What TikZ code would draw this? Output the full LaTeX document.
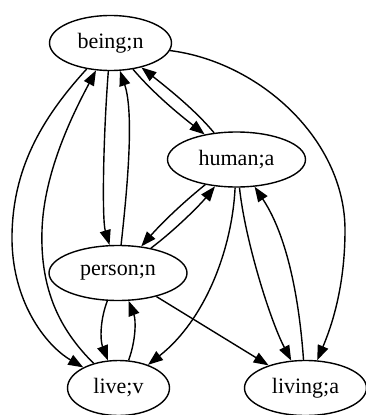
\documentclass[tikz,border=0pt]{standalone}
\usepackage{fontspec}
\setmainfont{Liberation Serif}
\usetikzlibrary{shapes.geometric}
\usetikzlibrary{arrows.meta}
\tikzset{x=1pt, y=-1pt, % pixel-like units, y grows downwards
      every node/.style={font=\fontsize{22}{26}\selectfont},
      word/.style={ % Sets the properties for each word node
      ellipse, draw, line width=1.4pt, inner sep=0pt, minimum height=55pt},
      every path/.style={line width=1.4pt},
      >={Triangle[length=15pt,width=11pt]}} % Filled arrow heads

\begin{document}
\begin{tikzpicture}
      \useasboundingbox (0,0) rectangle (366,415);
      \node[word, minimum width=122pt] (being) at (110.5,43) {being;n};
      \node[word, minimum width=138pt] (human) at (236.5,159.5) {human;a};
      \node[word, minimum width=138pt] (person) at (118,273) {person;n};
      \node[word, minimum width=102pt] (live) at (118.5,388) {live;v};
      \node[word, minimum width=122pt] (living) at (305.5,388) {living;a};
      % edges out of being;n
      \draw[->] (being) .. controls (40,120) and (13,170) .. (12,235) .. controls (11,300) and (45,345) .. (live);
      \draw[->] (being) .. controls (103,140) and (102,220) .. (person);
      \draw[->] (being) .. controls (155,95) and (180,115) .. (human);
      \draw[->] (being) .. controls (260,62) and (345,140) .. (345,230) .. controls (345,290) and (330,330) .. (living);
      % edges out of human;a
      \draw[->] (human) .. controls (195,110) and (170,90) .. (being);
      \draw[->] (human) .. controls (180,205) and (160,225) .. (person);
      \draw[->] (human) .. controls (232,250) and (205,320) .. (live);
      \draw[->] (human) .. controls (245,240) and (270,320) .. (living);
      % edges out of person;n
      \draw[->] (person) .. controls (126,200) and (135,115) .. (being);
      \draw[->] (person) .. controls (175,230) and (200,205) .. (human);
      \draw[->] (person) .. controls (100,320) and (100,340) .. (live);
      \draw[->] (person) -- (living);
      % edges out of live;v and living;a
      \draw[->] (live) .. controls (60,330) and (40,290) .. (42,230) .. controls (44,170) and (75,110) .. (being);
      \draw[->] (live) .. controls (136,340) and (136,320) .. (person);
      \draw[->] (living) .. controls (300,310) and (290,240) .. (human);
\end{tikzpicture}
\end{document}
